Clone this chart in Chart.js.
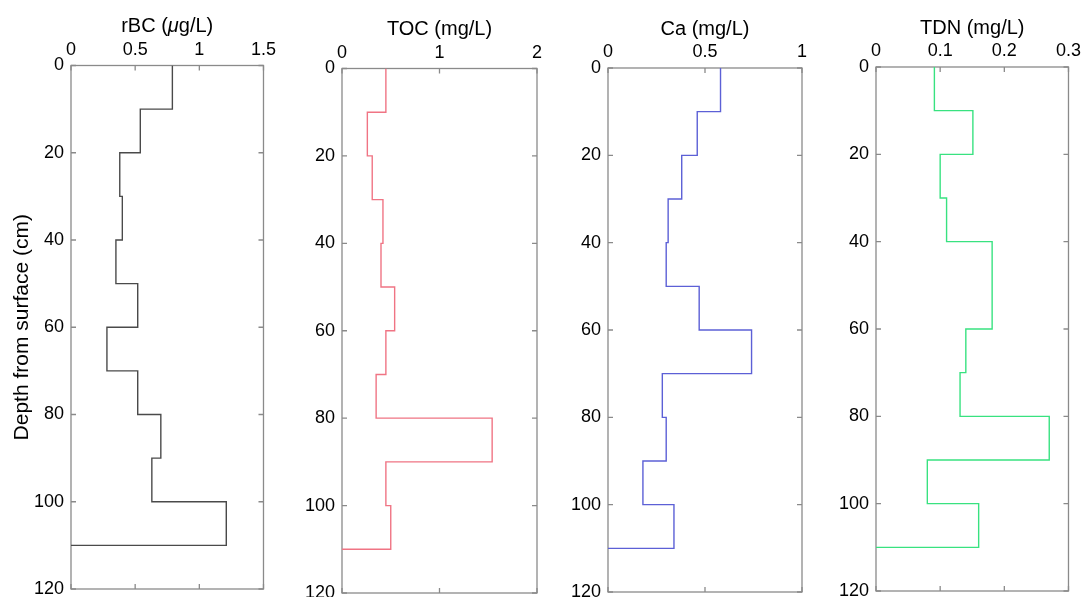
<!DOCTYPE html>
<html>
<head>
<meta charset="utf-8">
<script src="https://cdn.jsdelivr.net/npm/chart.js@4/dist/chart.umd.min.js"></script>
<style>
  html, body { margin: 0; padding: 0; background: #fff; overflow: hidden; width: 1086px; height: 597px; }
  .panel { position: absolute; top: 0; height: 620px; }
</style>
</head>
<body>
<div class="panel" style="left:0px;width:281px"><canvas id="c0"></canvas></div>
<div class="panel" style="left:290px;width:264px"><canvas id="c1"></canvas></div>
<div class="panel" style="left:560px;width:259px"><canvas id="c2"></canvas></div>
<div class="panel" style="left:828px;width:258px"><canvas id="c3"></canvas></div>
<script>
// depth intervals (cm), each value holds from depthEdges[i] to depthEdges[i+1]
const depthEdges = [0, 10, 20, 30, 40, 50, 60, 70, 80, 90, 100, 110];
const depthTicks = [0, 20, 40, 60, 80, 100, 120];

const rbc = [0.79, 0.54, 0.38, 0.40, 0.35, 0.52, 0.28, 0.52, 0.70, 0.63, 1.21];
const toc = [0.45, 0.26, 0.31, 0.42, 0.40, 0.54, 0.45, 0.35, 1.54, 0.45, 0.50];
const ca = [0.58, 0.46, 0.38, 0.31, 0.30, 0.47, 0.74, 0.28, 0.30, 0.18, 0.34];
const tdn = [0.091, 0.151, 0.100, 0.110, 0.181, 0.181, 0.140, 0.131, 0.270, 0.080, 0.160];

const rbcTicks = [0, 0.5, 1, 1.5];
const tocTicks = [0, 1, 2];
const caTicks = [0, 0.5, 1];
const tdnTicks = [0, 0.1, 0.2, 0.3];

// title pieces: [plain, italic, plain]
const titles = [['rBC (', '\u03bc', 'g/L)'], ['TOC (mg/L)', '', ''], ['Ca (mg/L)', '', ''], ['TDN (mg/L)', '', '']];
const yTitle = 'Depth from surface (cm)';

//turn interval values into a stairs profile
function stairs(vals) {
  const pts = [];
  vals.forEach((v, i) => {
    pts.push({x: v, y: depthEdges[i]});
    pts.push({x: v, y: depthEdges[i + 1]});
  });
  pts.push({x: 0, y: depthEdges[depthEdges.length - 1]});
  return pts;
}

const FONT = 'Liberation Sans, Arial, Helvetica, sans-serif';

// box + inward ticks on all four sides
const boxTicks = {
  id: 'boxTicks',
  beforeDatasetsDraw(chart) {
    const {ctx, chartArea: a, scales: {x, y}} = chart;
    ctx.save();
    ctx.strokeStyle = '#8a8a8a';
    ctx.lineWidth = 1.3;
    ctx.beginPath();
    x.ticks.forEach(t => {
      const px = x.getPixelForValue(t.value);
      ctx.moveTo(px, a.top); ctx.lineTo(px, a.top + 5);
      ctx.moveTo(px, a.bottom); ctx.lineTo(px, a.bottom - 5);
    });
    y.ticks.forEach(t => {
      const py = y.getPixelForValue(t.value);
      ctx.moveTo(a.left, py); ctx.lineTo(a.left + 5, py);
      ctx.moveTo(a.right, py); ctx.lineTo(a.right - 5, py);
    });
    ctx.stroke();
    ctx.strokeRect(a.left, a.top, a.right - a.left, a.bottom - a.top);
    ctx.restore();
  }
};

// panel title with an italic part (mu), centred over the plot
const panelTitle = {
  id: 'panelTitle',
  afterDraw(chart, args, opts) {
    const {ctx, chartArea: a} = chart;
    const [p1, it, p2] = opts.parts;
    const up = '20px ' + FONT, ital = 'italic 20px ' + FONT;
    ctx.save();
    ctx.fillStyle = '#000';
    ctx.textBaseline = 'middle';
    ctx.textAlign = 'left';
    ctx.font = up; const w1 = ctx.measureText(p1).width, w3 = ctx.measureText(p2).width;
    ctx.font = ital; const w2 = ctx.measureText(it).width;
    let x0 = (a.left + a.right) / 2 - (w1 + w2 + w3) / 2;
    const y0 = opts.y;
    ctx.font = up; ctx.fillText(p1, x0, y0); x0 += w1;
    ctx.font = ital; ctx.fillText(it, x0, y0); x0 += w2;
    ctx.font = up; ctx.fillText(p2, x0, y0);
    ctx.restore();
  }
};

const panels = [
  {id: 'c0', vals: rbc, ticks: rbcTicks, color: '#4a4a4a', yw: 71, top: 65.5, bottom: 31, right: 17, ylabel: true},
  {id: 'c1', vals: toc, ticks: tocTicks, color: 'rgb(240,116,132)', yw: 52, top: 68.5, bottom: 27, right: 17},
  {id: 'c2', vals: ca, ticks: caTicks, color: 'rgb(92,96,214)', yw: 48, top: 68, bottom: 28, right: 17},
  {id: 'c3', vals: tdn, ticks: tdnTicks, color: 'rgb(56,226,128)', yw: 48, top: 67, bottom: 29, right: 15},
];

panels.forEach((p, i) => {
  const xt = p.ticks;
  new Chart(document.getElementById(p.id), {
    type: 'scatter',
    data: {
      datasets: [{
        data: stairs(p.vals),
        showLine: true,
        borderColor: p.color,
        borderWidth: 1.4,
        pointRadius: 0,
        fill: false,
      }],
    },
    options: {
      responsive: true,
      maintainAspectRatio: false,
      animation: false,
      layout: {padding: {left: 0, top: 0, right: p.right, bottom: p.bottom}},
      plugins: {
        legend: {display: false},
        tooltip: {enabled: false},
        panelTitle: {parts: titles[i], y: p.top - 39},
      },
      scales: {
        x: {
          type: 'linear',
          position: 'top',
          min: xt[0],
          max: xt[xt.length - 1],
          afterBuildTicks: s => { s.ticks = xt.map(v => ({value: v})); },
          afterFit: s => { s.height = p.top; },
          grid: {display: false, drawTicks: false},
          border: {display: false},
          ticks: {color: '#000', font: {family: FONT, size: 18}, padding: 5, maxRotation: 0, autoSkip: false,
            callback: v => String(v)},
        },
        y: {
          type: 'linear',
          reverse: true,
          min: 0,
          max: 120,
          afterBuildTicks: s => { s.ticks = depthTicks.map(v => ({value: v})); },
          afterFit: s => { s.width = p.yw; },
          grid: {display: false, drawTicks: false},
          border: {display: false},
          ticks: {color: '#000', font: {family: FONT, size: 18}, padding: 7, autoSkip: false,
            callback: v => String(v)},
          title: {display: !!p.ylabel, text: yTitle, color: '#000', font: {family: FONT, size: 21},
            padding: {top: 10, bottom: 0}},
        },
      },
    },
    plugins: [boxTicks, panelTitle],
  });
});
</script>
</body>
</html>
